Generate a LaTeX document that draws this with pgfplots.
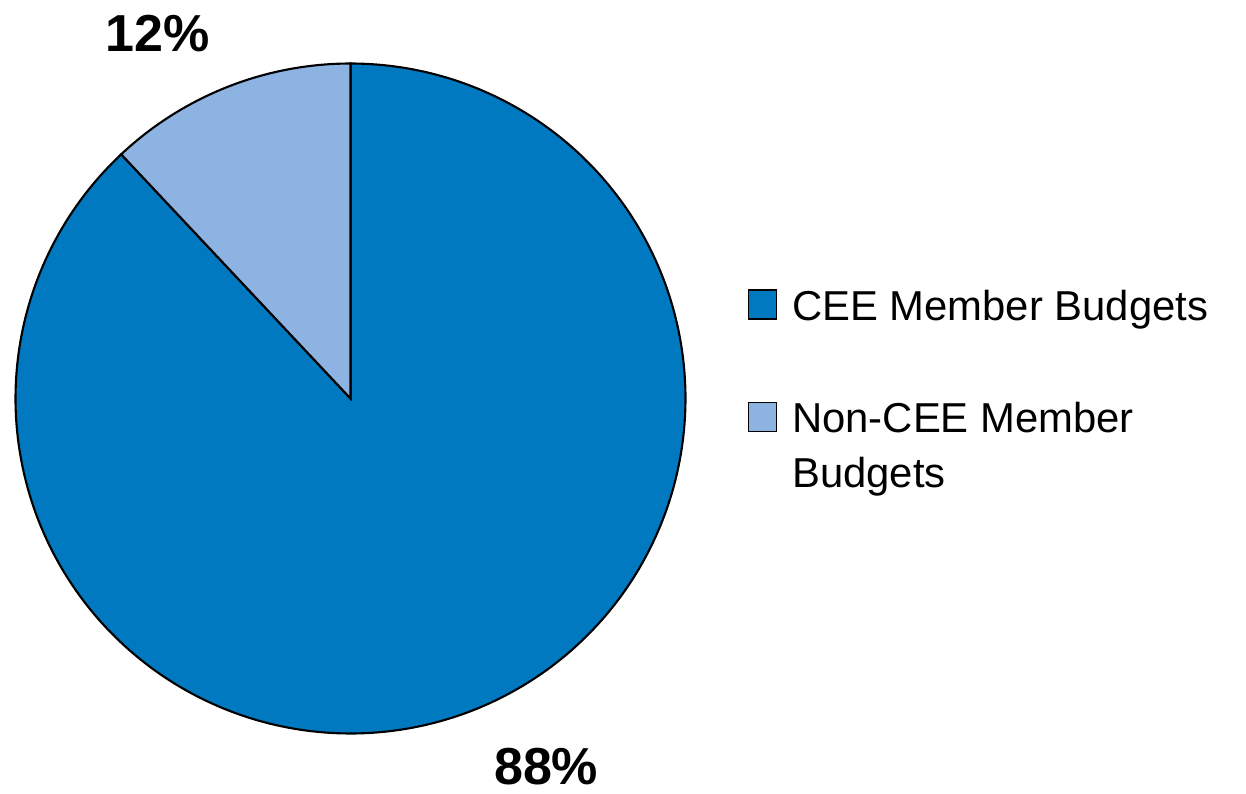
\documentclass[border=0pt]{standalone}
\usepackage{pgfplots}
\usepackage{pgfplotstable}
\pgfplotsset{compat=1.18}
\usepackage{fontspec}
\setmainfont{Liberation Sans}
\definecolor{ceeblue}{RGB}{0,121,193}
\definecolor{nonblue}{RGB}{141,179,226}

\pgfplotstableread{
label value
CEE 88
NonCEE 12
}\pietable
\pgfplotstablegetelem{0}{value}\of\pietable \let\vCEE\pgfplotsretval
\pgfplotstablegetelem{1}{value}\of\pietable \let\vNon\pgfplotsretval
\pgfmathsetmacro\aSplit{90+3.6*\vNon}

\begin{document}%
\begin{tikzpicture}
\begin{axis}[
  at={(3.505cm,3.945cm)}, anchor=origin,
  x=3.35cm, y=3.35cm,
  xmin=-1, xmax=1, ymin=-1, ymax=1,
  hide axis, clip=false,
  legend style={
    draw=none, fill=none, inner sep=0pt, outer sep=0pt,
    at={(1.093,0.663)}, anchor=north west,
    font=\fontsize{11.9}{15.6}\selectfont,
    row sep=0.69cm, column sep=0.15cm,
    nodes={inner sep=0pt, outer sep=0pt},
    cells={anchor=base west},
  },
  legend image code/.code={\draw[#1, line width=0.4pt] (0cm,0.01cm) rectangle (0.28cm,0.30cm);},
]
\addplot[fill=ceeblue, draw=black, line width=0.6pt, domain=\aSplit:450, samples=300, variable=\t]
  ({cos(\t)},{sin(\t)}) -- (axis cs:0,0) -- cycle;
\addlegendentry{CEE Member Budgets}
\addplot[fill=nonblue, draw=black, line width=0.6pt, domain=90:\aSplit, samples=60, variable=\t]
  ({cos(\t)},{sin(\t)}) -- (axis cs:0,0) -- cycle;
\addlegendentry{\begin{tabular}[t]{@{}l@{}}Non-CEE Member\\Budgets\end{tabular}}
\node[font=\bfseries\fontsize{14.8}{17}\selectfont, anchor=base, inner sep=0pt] at (axis cs:-0.575,1.037) {\vNon\%};
\node[font=\bfseries\fontsize{14.8}{17}\selectfont, anchor=base, inner sep=0pt] at (axis cs:0.584,-1.151) {\vCEE\%};
\end{axis}
\pgfresetboundingbox
\path[use as bounding box] (0,0) rectangle (12.46cm,7.93cm);
\end{tikzpicture}%
\end{document}
